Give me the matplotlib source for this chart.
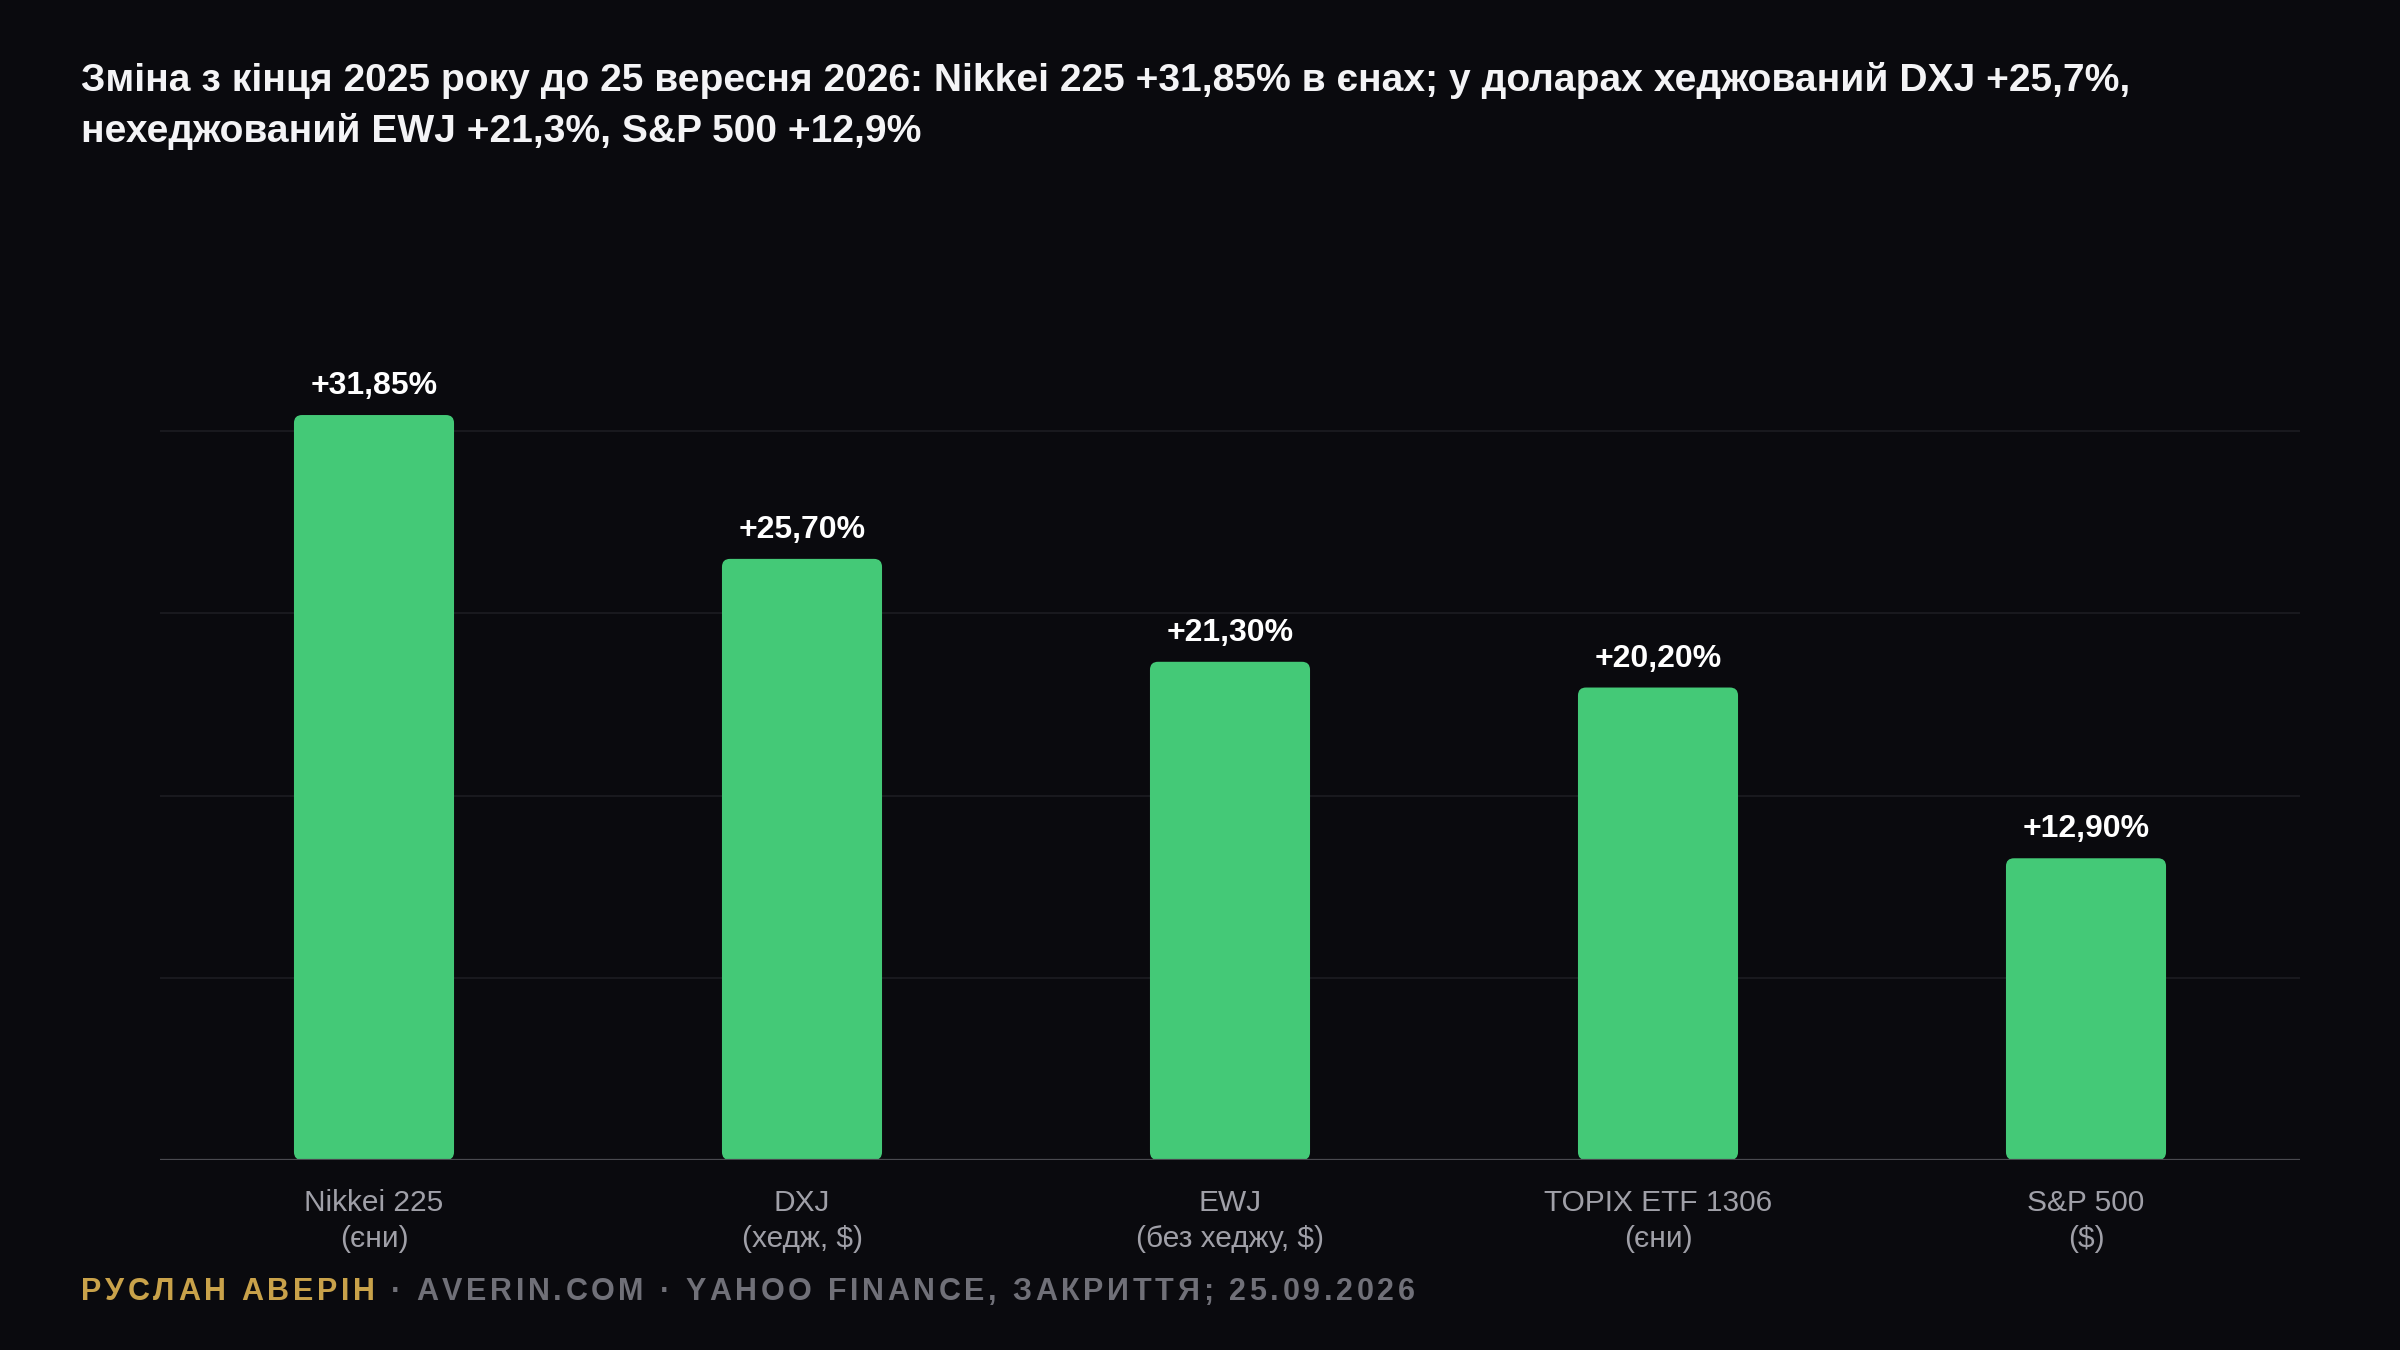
import numpy as np
import matplotlib
matplotlib.use("Agg")
import matplotlib.pyplot as plt
from matplotlib.patches import FancyBboxPatch
from matplotlib.font_manager import FontProperties

# дані
categories = ["Nikkei 225\n(єни)", "DXJ\n(хедж, $)", "EWJ\n(без хеджу, $)",
              "TOPIX ETF 1306\n(єни)", "S&P 500\n($)"]
changes = [31.85, 25.70, 21.30, 20.20, 12.90]

title_line1 = "Зміна з кінця 2025 року до 25 вересня 2026: Nikkei 225 +31,85% в єнах; у доларах хеджований DXJ +25,7%,"
title_line2 = "нехеджований EWJ +21,3%, S&P 500 +12,9%"
footer_author = "РУСЛАН АВЕРІН"
footer_rest = " · AVERIN.COM · YAHOO FINANCE, ЗАКРИТТЯ; 25.09.2026"

BG = "#0a0a0e"
GREEN = "#44c977"
FONT = ["Liberation Sans", "DejaVu Sans"]

plt.rcParams["font.family"] = FONT

W, H = 2400, 1350
fig = plt.figure(figsize=(24, 13.5), dpi=100, facecolor=BG)
ax = fig.add_axes([160 / W, 190 / H, 2140 / W, 935.6 / H])
ax.set_facecolor(BG)

x = np.arange(len(changes))
bars = ax.bar(x, changes, width=0.374, color=GREEN, zorder=3)
ax.set_xlim(-0.5, len(changes) - 0.5)
ax.set_ylim(0, 40)

# закруглені кути замість звичайних прямокутників
px_x = 2140 / 5.0
px_y = 935.6 / 40.0
r = 8 / px_x
for b in bars:
    b.set_visible(False)
    ax.add_patch(FancyBboxPatch((b.get_x(), b.get_y()), b.get_width(), b.get_height(),
                                boxstyle=f"round,pad=0,rounding_size={r}",
                                mutation_aspect=px_x / px_y,
                                facecolor=GREEN, edgecolor="none", zorder=3))

for i, v in enumerate(changes):
    ax.annotate(f"+{v:.2f}%".replace(".", ","), xy=(i, v), xytext=(0, 15),
                textcoords="offset points", ha="center", va="baseline",
                color="white", fontsize=23, fontweight="bold")

# сітка
ax.set_yticks(np.linspace(0, 31.16, 5))
ax.yaxis.grid(True, color="#1e1e24", linewidth=1.1, zorder=0)
ax.axhline(0, color="#4a4a50", linewidth=1.6, zorder=4)
ax.tick_params(axis="y", left=False, labelleft=False)
for s in ax.spines.values():
    s.set_visible(False)

ax.set_xticks(x)
ax.set_xticklabels(categories, color="#a0a0a8", fontsize=21.5, linespacing=1.35)
ax.tick_params(axis="x", length=0, pad=21)

# заголовок
fig.text(81 / W, 1 - 91 / H, title_line1, color="#f4f4f6", fontsize=28.1,
         fontweight="bold", va="baseline", ha="left")
fig.text(81 / W, 1 - 142 / H, title_line2, color="#f4f4f6", fontsize=28.1,
         fontweight="bold", va="baseline", ha="left")

# підпис з розрядкою літер
renderer = fig.canvas.get_renderer()
prop = FontProperties(family=FONT, weight="bold", size=22)
track = 3.65
xpos = 81.0
for text, col in [(footer_author, "#c9a24a"), (footer_rest, "#707078")]:
    for ch in text:
        fig.text(xpos / W, 1 - 1300 / H, ch, color=col, fontproperties=prop,
                 va="baseline", ha="left")
        w, _, _ = renderer.get_text_width_height_descent(ch, prop, ismath=False)
        xpos += w + track

fig.savefig("out.png", dpi=100, facecolor=BG)
